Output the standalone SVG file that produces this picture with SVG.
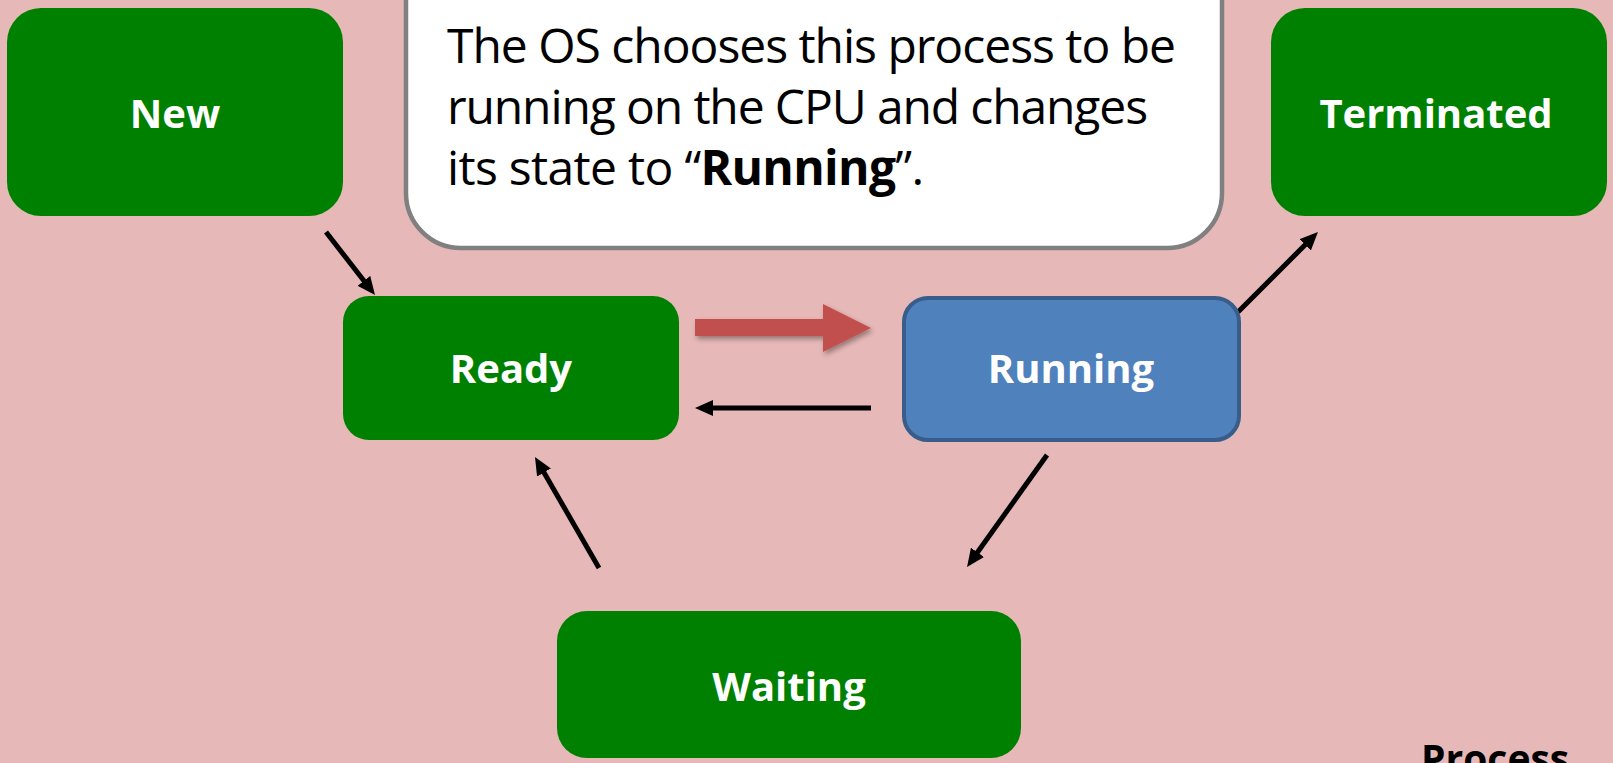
<svg xmlns="http://www.w3.org/2000/svg" width="1613" height="763" viewBox="0 0 1613 763">
<style>
.node{fill:#008000}
.lbl{font-family:"Open Sans","Liberation Sans",sans-serif;font-weight:bold;font-size:40px;fill:#ffffff;text-anchor:middle}
.conn{stroke:#000;stroke-width:5;fill:none;marker-end:url(#ah)}
.call{font-family:"Open Sans","Liberation Sans",sans-serif;font-size:48px;fill:#000}
</style>
<defs>
<marker id="ah" viewBox="0 0 18 16" refX="11" refY="8" markerWidth="18" markerHeight="16" markerUnits="userSpaceOnUse" orient="auto">
<path d="M0,0 L18,8 L0,16 Z" fill="#000"/>
</marker>
<filter id="sh" x="-20%" y="-40%" width="140%" height="180%">
<feDropShadow dx="2" dy="3" stdDeviation="2.5" flood-color="#000" flood-opacity="0.35"/>
</filter>
</defs>
<rect width="1613" height="763" fill="#E6B8B7"/>
<g id="connectors">
<line class="conn" x1="326" y1="232" x2="370.7" y2="289.5"/>
<line class="conn" x1="1238" y1="312" x2="1313" y2="237"/>
<line class="conn" x1="871" y1="408" x2="702" y2="408"/>
<line class="conn" x1="1047" y1="455" x2="971.1" y2="561.3"/>
<line class="conn" x1="599" y1="568" x2="538.5" y2="463"/>
<path id="red-arrow" d="M695,319 L823,319 L823,304 L871,328 L823,352 L823,336 L695,336 Z" fill="#C0504D" filter="url(#sh)"/>
</g>
<g id="callout">
<rect x="406" y="-60" width="816" height="308" rx="55" fill="#ffffff" stroke="#808080" stroke-width="4.5"/>
<text class="call" x="447" y="63" textLength="729">The OS chooses this process to be</text>
<text class="call" x="447" y="124" textLength="701">running on the CPU and changes</text>
<text class="call" x="447" y="185" textLength="477">its state to “<tspan font-weight="bold">Running</tspan>”.</text>
</g>
<g id="node-new">
<rect class="node" x="7" y="8" width="336" height="208" rx="34"/>
<text class="lbl" x="175" y="128">New</text>
</g>
<g id="node-terminated">
<rect class="node" x="1271" y="8" width="336" height="208" rx="34"/>
<text class="lbl" x="1436" y="128">Terminated</text>
</g>
<g id="node-ready">
<rect class="node" x="343" y="296" width="336" height="144" rx="26"/>
<text class="lbl" x="511" y="383">Ready</text>
</g>
<g id="node-running">
<rect x="904" y="298" width="335" height="142" rx="24" fill="#4F81BD" stroke="#385D8A" stroke-width="4"/>
<text class="lbl" x="1071" y="383">Running</text>
</g>
<g id="node-waiting">
<rect class="node" x="557" y="611" width="464" height="147" rx="30"/>
<text class="lbl" x="789" y="701">Waiting</text>
</g>
<text x="1421" y="773" font-family="'Open Sans','Liberation Sans',sans-serif" font-weight="bold" font-size="39" fill="#000">Process</text>
</svg>
